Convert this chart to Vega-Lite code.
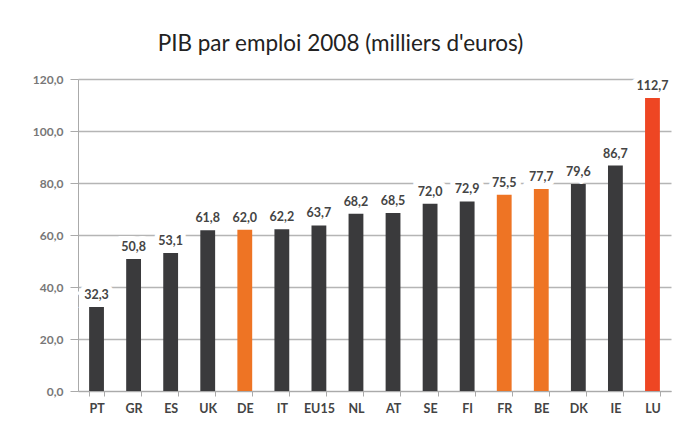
{
  "$schema": "https://vega.github.io/schema/vega-lite/v6.json",
  "autosize": {"type": "none"},
  "width": 593,
  "height": 312,
  "padding": {"left": 78, "top": 79, "right": 7, "bottom": 50},
  "background": "#ffffff",
  "config": {
    "font": "Lato",
    "view": {"stroke": null},
    "locale": {"number": {"decimal": ",", "thousands": " ", "grouping": [3], "currency": ["", " €"]}}
  },
  "title": {
    "text": "PIB par emploi 2008 (milliers d'euros)",
    "fontSize": 22.5,
    "fontWeight": "normal",
    "color": "#222222",
    "font": "Lato",
    "anchor": "middle",
    "dx": -34,
    "offset": 18
  },
  "data": {
    "values": [
      {"pays": "PT", "valeur": 32.3, "groupe": "autre"},
      {"pays": "GR", "valeur": 50.8, "groupe": "autre"},
      {"pays": "ES", "valeur": 53.1, "groupe": "autre"},
      {"pays": "UK", "valeur": 61.8, "groupe": "autre"},
      {"pays": "DE", "valeur": 62.0, "groupe": "voisin"},
      {"pays": "IT", "valeur": 62.2, "groupe": "autre"},
      {"pays": "EU15", "valeur": 63.7, "groupe": "autre"},
      {"pays": "NL", "valeur": 68.2, "groupe": "autre"},
      {"pays": "AT", "valeur": 68.5, "groupe": "autre"},
      {"pays": "SE", "valeur": 72.0, "groupe": "autre"},
      {"pays": "FI", "valeur": 72.9, "groupe": "autre"},
      {"pays": "FR", "valeur": 75.5, "groupe": "voisin"},
      {"pays": "BE", "valeur": 77.7, "groupe": "voisin"},
      {"pays": "DK", "valeur": 79.6, "groupe": "autre"},
      {"pays": "IE", "valeur": 86.7, "groupe": "autre"},
      {"pays": "LU", "valeur": 112.7, "groupe": "lux"}
    ]
  },
  "encoding": {
    "x": {
      "field": "pays",
      "type": "nominal",
      "sort": null,
      "scale": {"paddingInner": 0.6, "paddingOuter": 0.3},
      "axis": {
        "title": null,
        "labelAngle": 0,
        "labelFont": "Lato",
        "labelFontSize": 12.5,
        "labelFontWeight": "bold",
        "labelColor": "#444444",
        "labelPadding": 6,
        "domainColor": "#aaaaaa",
        "tickColor": "#aaaaaa",
        "tickSize": 5,
        "tickBand": "extent"
      }
    },
    "y": {
      "field": "valeur",
      "type": "quantitative",
      "scale": {"domain": [0, 120], "nice": false},
      "axis": {
        "title": null,
        "values": [0, 20, 40, 60, 80, 100, 120],
        "format": ".1f",
        "labelFont": "Lato",
        "labelFontSize": 12,
        "labelFontWeight": "bold",
        "labelColor": "#777777",
        "labelPadding": 7,
        "tickSize": 8,
        "tickColor": "#aaaaaa",
        "domainColor": "#aaaaaa",
        "gridColor": "#b5b5b5",
        "gridWidth": 1.5
      }
    }
  },
  "layer": [
    {
      "mark": {"type": "text", "dy": -12, "fontSize": 12.5, "fontWeight": "bold", "color": "#ffffff", "stroke": "#ffffff", "strokeWidth": 10, "font": "Lato"},
      "encoding": {
        "text": {"field": "valeur", "type": "quantitative", "format": ".1f"}
      }
    },
    {
      "mark": {"type": "bar"},
      "encoding": {
        "color": {
          "field": "groupe",
          "type": "nominal",
          "scale": {"domain": ["autre", "voisin", "lux"], "range": ["#3a3a3c", "#ee7424", "#ee4623"]},
          "legend": null
        }
      }
    },
    {
      "mark": {"type": "text", "dy": -12, "fontSize": 12.5, "fontWeight": "bold", "color": "#444444", "font": "Lato"},
      "encoding": {
        "text": {"field": "valeur", "type": "quantitative", "format": ".1f"}
      }
    }
  ]
}
